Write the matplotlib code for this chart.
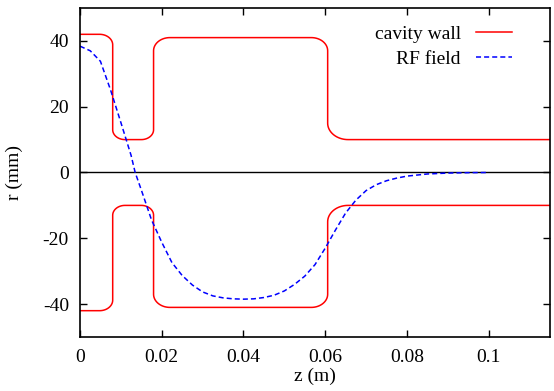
import numpy as np
import matplotlib
matplotlib.use("Agg")
import matplotlib.pyplot as plt

plt.rcParams["font.family"] = ["Liberation Serif", "DejaVu Serif"]
plt.rcParams["axes.unicode_minus"] = False

# cavity wall outline (upper half): corner points, z in m, r in mm
wall_z = [0.0, 0.008, 0.008, 0.018, 0.018, 0.0606, 0.0606, 0.12]
wall_r = [42, 42, 10, 10, 41, 41, 10, 10]
# fillet radius (mm) at each inner corner
corner_radius = [3.2, 3.0, 3.0, 4.0, 4.0, 5.0]

# on-axis RF field, scaled to mm
field_z = [0.0, 0.0025, 0.005, 0.0075, 0.01, 0.0125, 0.0135, 0.015, 0.0175,
           0.02, 0.0225, 0.025, 0.0275, 0.03, 0.0325, 0.035, 0.0375, 0.04,
           0.0425, 0.045, 0.0475, 0.05, 0.0525, 0.055, 0.0575, 0.06, 0.0625,
           0.065, 0.0675, 0.07, 0.0725, 0.075, 0.0775, 0.08, 0.085, 0.09,
           0.095, 0.1]
field_r = [38.4, 37.0, 33.8, 25.0, 15.2, 5.2, 0.0, -5.3, -14.4,
           -21.2, -27.4, -31.3, -34.2, -36.3, -37.5, -38.1, -38.4, -38.5,
           -38.4, -38.0, -37.3, -36.0, -34.0, -31.5, -28.0, -23.0, -17.5,
           -12.3, -8.4, -5.5, -3.7, -2.5, -1.7, -1.1, -0.45, -0.17,
           -0.05, 0.0]

xticks = [0, 0.02, 0.04, 0.06, 0.08, 0.1]
xtick_labels = ["0", "0.02", "0.04", "0.06", "0.08", "0.1"]
yticks = [-40, -20, 0, 20, 40]
ytick_labels = ["-40", "-20", "0", "20", "40"]


def rounded_outline(zs, rs, radii, n=20):
    # work in mm on both axes so the fillets are true circles
    pts = np.column_stack([np.array(zs) * 1000.0, np.array(rs, dtype=float)])
    out = [pts[0]]
    for i in range(1, len(pts) - 1):
        p = pts[i]
        u = (p - pts[i - 1]) / np.linalg.norm(p - pts[i - 1])
        v = (pts[i + 1] - p) / np.linalg.norm(pts[i + 1] - p)
        R = radii[i - 1]
        t1 = p - R * u
        t2 = p + R * v
        c = t1 + R * v
        a0 = np.arctan2(*(t1 - c)[::-1])
        a1 = np.arctan2(*(t2 - c)[::-1])
        d = (a1 - a0 + np.pi) % (2 * np.pi) - np.pi
        a = a0 + d * np.linspace(0, 1, n)
        out.extend(np.column_stack([c[0] + R * np.cos(a), c[1] + R * np.sin(a)]))
    out.append(pts[-1])
    out = np.array(out)
    return out[:, 0] / 1000.0, out[:, 1]


wz, wr = rounded_outline(wall_z, wall_r, corner_radius)

fig = plt.figure(figsize=(5.54, 3.91), dpi=100)
ax = fig.add_axes([80 / 554, 1 - 337 / 391, 470 / 554, 329 / 391])

ax.axhline(0, color="black", lw=1.0, zorder=1)
wall_line, = ax.plot(wz, wr, color="#ff0000", lw=1.1, label="cavity wall")
ax.plot(wz, -wr, color="#ff0000", lw=1.1)
field_line, = ax.plot(field_z, field_r, color="#0000ff", lw=1.1,
                      dashes=(3.3, 2.0), label="RF field")

ax.set_xlim(0, 0.115)
ax.set_ylim(-50, 50)
ax.set_xticks(xticks)
ax.set_xticklabels(xtick_labels)
ax.set_yticks(yticks)
ax.set_yticklabels(ytick_labels)
ax.tick_params(direction="in", top=True, right=True, length=5, width=1.0,
               labelsize=14, pad=8)
ax.tick_params(axis="x", pad=8.5)
for s in ax.spines.values():
    s.set_linewidth(1.2)

ax.set_xlabel("z (m)", fontsize=14, labelpad=1)
ax.set_ylabel("r (mm)", fontsize=14, labelpad=14)

ax.legend(handles=[wall_line, field_line], loc="upper right",
          bbox_to_anchor=(0.919, 0.948), frameon=False, markerfirst=False,
          fontsize=14, handlelength=1.85, handletextpad=0.77,
          labelspacing=0.38, borderpad=0, borderaxespad=0)

fig.savefig("out.png", dpi=100)
